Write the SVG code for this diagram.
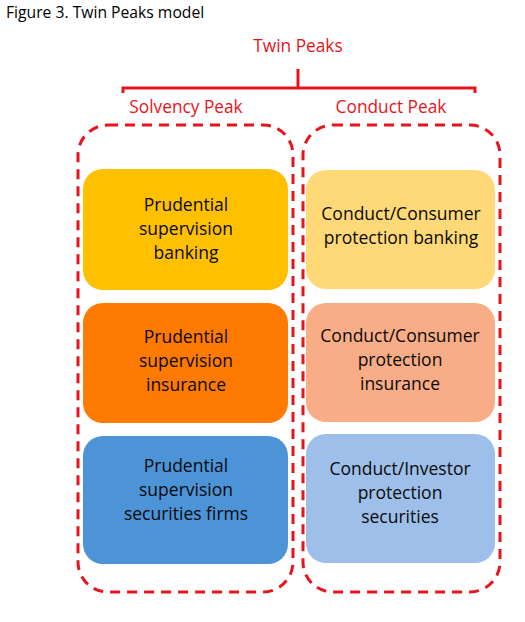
<svg xmlns="http://www.w3.org/2000/svg" width="525" height="622" viewBox="0 0 525 622">
<style>
.t{font-family:"Open Sans","Liberation Sans",sans-serif;text-anchor:middle;}
.red{fill:#e8141c;}
.nt{font-size:17.5px;fill:#0a0a0a;}
.lbl{font-size:17.3px;}
.peak{fill:none;stroke:#e8141c;stroke-width:3;stroke-dasharray:10 7;}
.br{fill:none;stroke:#e8141c;stroke-width:3;}
</style>
<rect width="525" height="622" fill="#fff"/>
<text x="6" y="18" style="font-family:'Open Sans','Liberation Sans',sans-serif;font-size:15.7px;fill:#000">Figure 3. Twin Peaks model</text>
<g id="connectors">
<path class="br" d="M123 93V88H475V93M298 69V88"/>
</g>
<g id="twin-peaks"><text class="t red lbl" x="298" y="52">Twin Peaks</text></g>
<g id="solvency-peak">
<rect class="peak" x="78" y="125" width="215" height="467" rx="30"/>
<text class="t red lbl" x="186" y="113">Solvency Peak</text>
</g>
<g id="conduct-peak">
<rect class="peak" x="303" y="125" width="197" height="467" rx="30"/>
<text class="t red lbl" x="391" y="113">Conduct Peak</text>
</g>
<g id="pru-banking">
<rect x="83" y="169" width="205" height="121" rx="20" fill="#ffc000"/>
<text class="t nt" x="186" y="211">Prudential</text>
<text class="t nt" x="186" y="235">supervision</text>
<text class="t nt" x="186" y="259">banking</text>
</g>
<g id="pru-insurance">
<rect x="83" y="303" width="205" height="120" rx="20" fill="#ff7a00"/>
<text class="t nt" x="186" y="343">Prudential</text>
<text class="t nt" x="186" y="367">supervision</text>
<text class="t nt" x="186" y="391">insurance</text>
</g>
<g id="pru-securities">
<rect x="83" y="436" width="205" height="128" rx="20" fill="#4c93d8"/>
<text class="t nt" x="186" y="472">Prudential</text>
<text class="t nt" x="186" y="496">supervision</text>
<text class="t nt" x="186" y="520">securities firms</text>
</g>
<g id="con-banking">
<rect x="306" y="170" width="189" height="119" rx="20" fill="#ffd878"/>
<text class="t nt" x="401" y="220">Conduct/Consumer</text>
<text class="t nt" x="401" y="244">protection banking</text>
</g>
<g id="con-insurance">
<rect x="306" y="303" width="189" height="119" rx="20" fill="#f8ad86"/>
<text class="t nt" x="400" y="342">Conduct/Consumer</text>
<text class="t nt" x="400" y="366">protection</text>
<text class="t nt" x="400" y="390">insurance</text>
</g>
<g id="inv-securities">
<rect x="306" y="434" width="189" height="129" rx="20" fill="#9dbfe9"/>
<text class="t nt" x="400" y="475">Conduct/Investor</text>
<text class="t nt" x="400" y="499">protection</text>
<text class="t nt" x="400" y="523">securities</text>
</g>
</svg>
